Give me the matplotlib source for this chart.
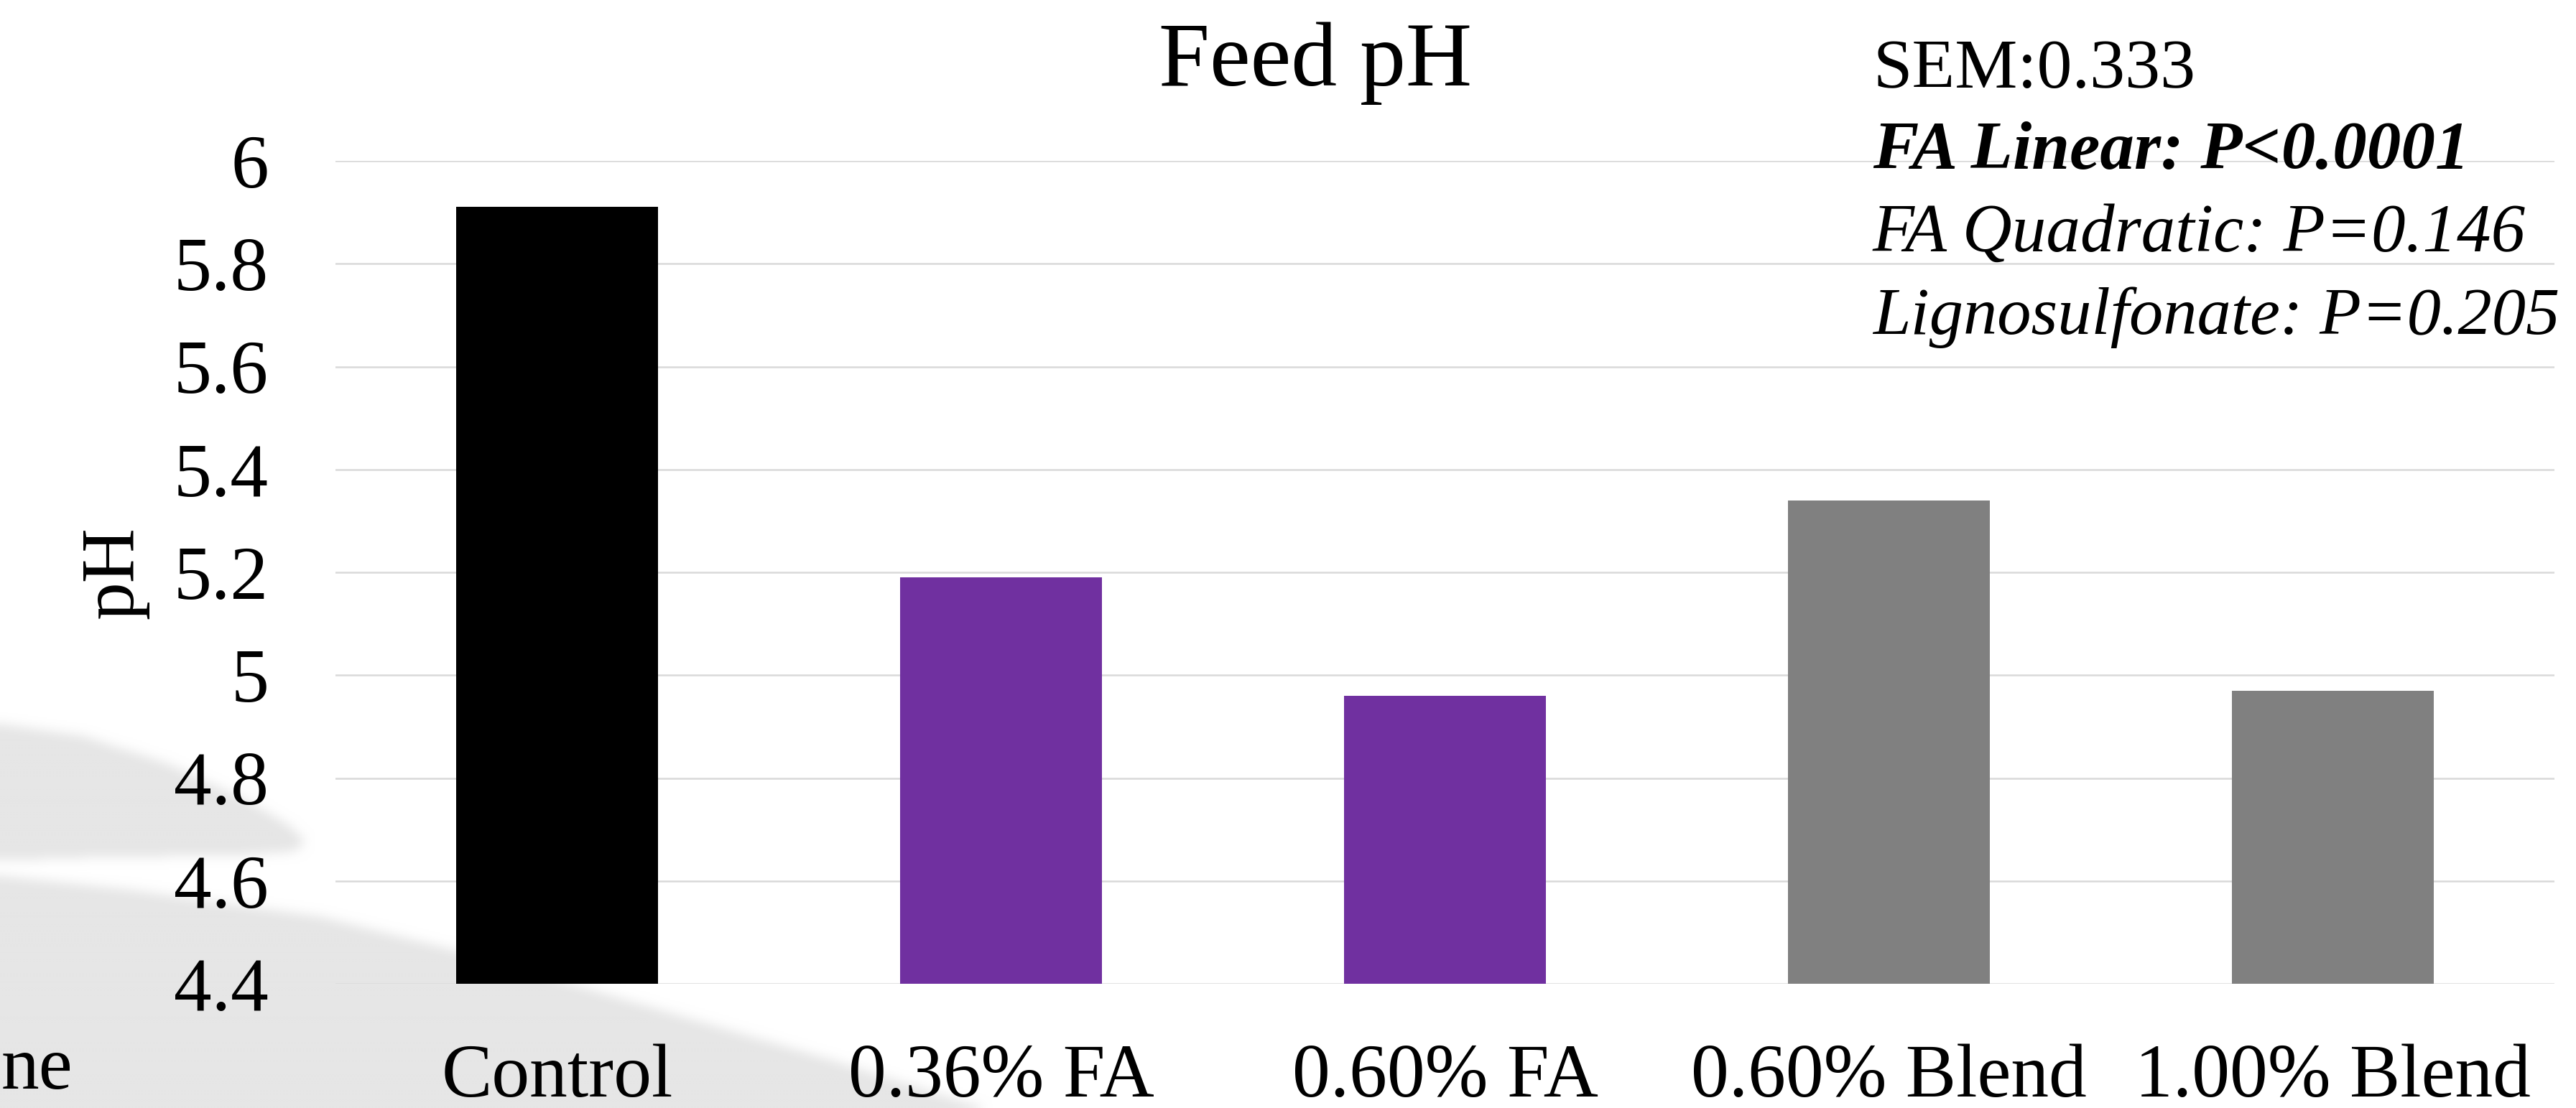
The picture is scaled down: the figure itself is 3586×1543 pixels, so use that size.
import matplotlib
matplotlib.use("Agg")
import numpy as np
import matplotlib.pyplot as plt
from matplotlib.path import Path
from matplotlib.colors import LinearSegmentedColormap
from matplotlib.ticker import FuncFormatter

# ---- data ----
categories = ["Control", "0.36% FA", "0.60% FA", "0.60% Blend", "1.00% Blend"]
ph_values = [5.91, 5.19, 4.96, 5.34, 4.97]
bar_colors = ["#000000", "#7030A0", "#7030A0", "#808080", "#808080"]
y_ticks = [4.4, 4.6, 4.8, 5.0, 5.2, 5.4, 5.6, 5.8, 6.0]
title = "Feed pH"
y_label = "pH"
stats_lines = ["SEM:0.333", "FA Linear: P<0.0001", "FA Quadratic: P=0.146",
               "Lignosulfonate: P=0.205"]

W, H = 3586, 1543
DPI = 100
plt.rcParams["font.family"] = ["Liberation Serif", "DejaVu Serif"]

fig = plt.figure(figsize=(W / DPI, H / DPI), dpi=DPI)
fig.patch.set_facecolor("white")

# ---- decorative background swoosh (slide background), soft edges ----
bg = fig.add_axes([0, 0, 1, 1], zorder=0)
bg.set_xlim(0, W)
bg.set_ylim(H, 0)
bg.axis("off")
upper = [(0, 1008), (115, 1025), (230, 1062), (344, 1115), (400, 1148),
         (424, 1172), (412, 1186), (344, 1191), (115, 1195), (0, 1199)]
lower = [(0, 1220), (178, 1239), (446, 1277), (625, 1322), (700, 1343),
         (1148, 1474), (1420, 1560), (0, 1560)]
step = 2
gx = np.arange(0, 1600, step) + step / 2
gy = np.arange(900, H, step) + step / 2
XX, YY = np.meshgrid(gx, gy)
pts = np.column_stack([XX.ravel(), YY.ravel()])
mask = np.zeros(XX.size, dtype=float)
for poly in (upper, lower):
    mask = np.maximum(mask, Path(poly).contains_points(pts).astype(float))
mask = mask.reshape(XX.shape)

def box_blur(a, r):
    k = np.ones(2 * r + 1) / (2 * r + 1)
    a = np.apply_along_axis(lambda m: np.convolve(np.pad(m, r, mode="edge"), k, mode="valid"), 0, a)
    a = np.apply_along_axis(lambda m: np.convolve(np.pad(m, r, mode="edge"), k, mode="valid"), 1, a)
    return a

mask = box_blur(box_blur(mask, 4), 4)
cmap = LinearSegmentedColormap.from_list("swoosh", ["#ffffff", "#e6e6e6"])
bg.imshow(mask, cmap=cmap, vmin=0, vmax=1, extent=(0, 1600, H, 900),
          interpolation="bilinear", aspect="auto", zorder=0)
bg.set_xlim(0, W)
bg.set_ylim(H, 0)
bg.text(2, 1516, "ne", fontsize=76, ha="left", va="baseline", color="black")

# ---- main axes ----
ax = fig.add_axes([467 / W, 173 / H, (3556 - 467) / W, (1370 - 224) / H], zorder=1)
ax.set_facecolor("none")
x = list(range(len(categories)))
ax.bar(x, ph_values, width=0.455, color=bar_colors, zorder=3)
ax.set_xlim(-0.5, len(categories) - 0.5)
ax.set_ylim(4.4, 6.0)
ax.set_yticks(y_ticks)
ax.yaxis.set_major_formatter(FuncFormatter(lambda v, p: f"{v:g}"))
ax.yaxis.grid(True, color="#d9d9d9", linewidth=1.8, zorder=0)
ax.set_axisbelow(True)
for s in ax.spines.values():
    s.set_visible(False)
ax.set_xticks(x)
ax.set_xticklabels(categories)
ax.tick_params(axis="y", length=0, labelsize=76, pad=67)
ax.tick_params(axis="x", length=0, labelsize=76, pad=60)

fig.text(159 / W, 1 - 797 / H, y_label, rotation=90, fontsize=76,
         ha="center", va="center")
fig.text(1831 / W, 1 - 119 / H, title, fontsize=92, ha="center", va="baseline")

styles = [dict(style="normal", weight="normal", size=70.5),
          dict(style="italic", weight="bold", size=68.5),
          dict(style="italic", weight="normal", size=68.5),
          dict(style="italic", weight="normal", size=68.0)]
baselines = [122, 235, 350, 465]
for line, st, yb in zip(stats_lines, styles, baselines):
    fig.text(2607 / W, 1 - yb / H, line, fontsize=st["size"], ha="left", va="baseline",
             fontstyle=st["style"], fontweight=st["weight"])

fig.savefig("out.png", dpi=DPI)
